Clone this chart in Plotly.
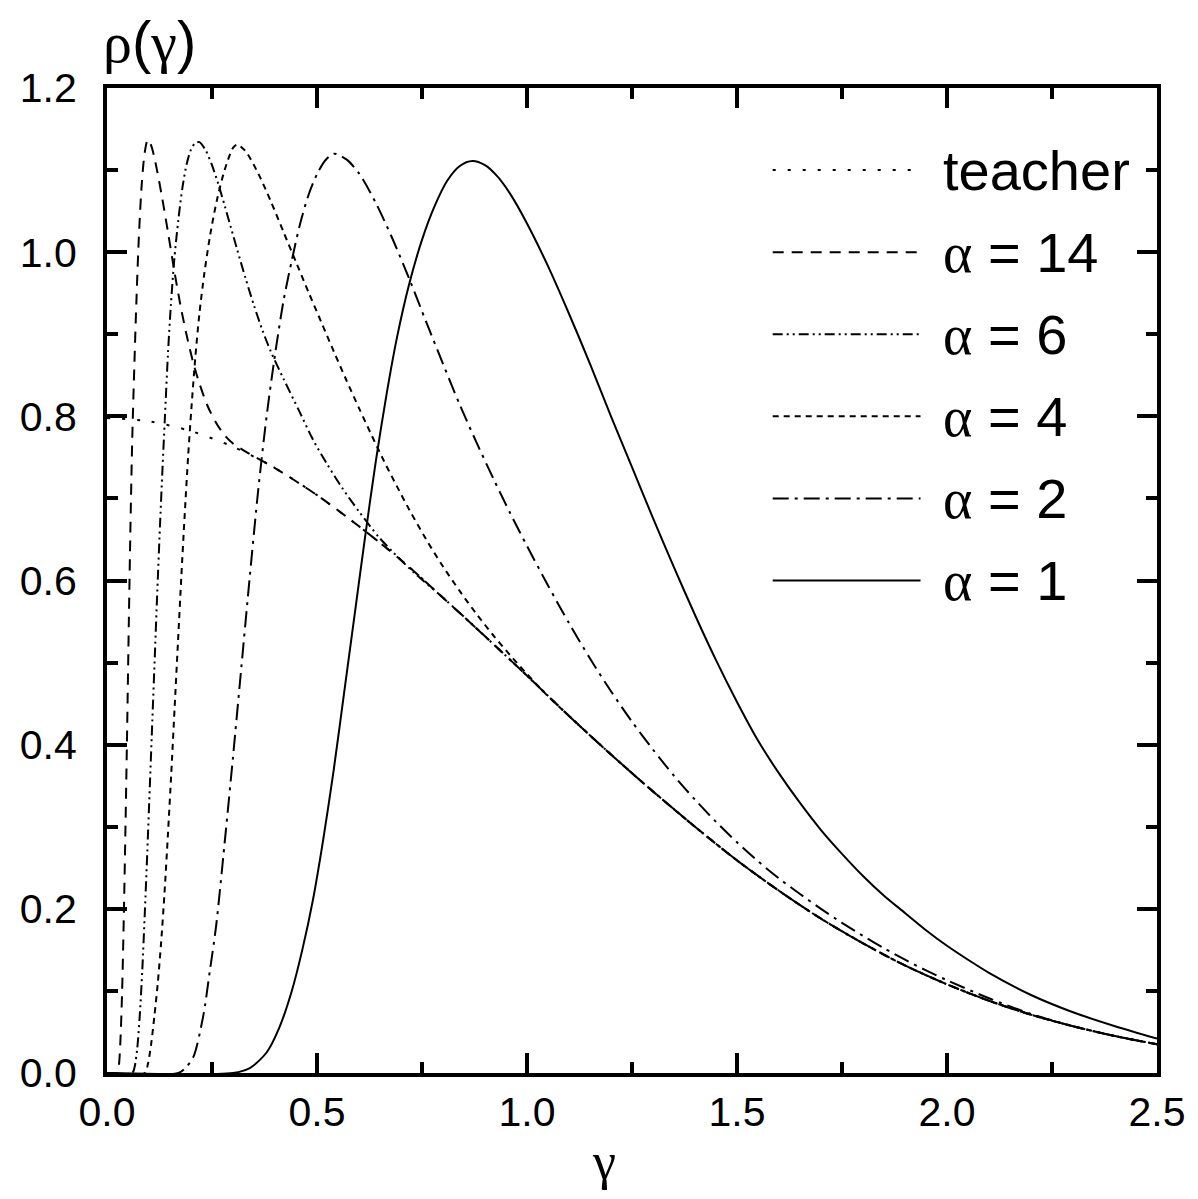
import plotly.graph_objects as go

# ---------------- data ----------------
teacher_g = [0.0, 0.1, 0.2, 0.3, 0.4, 0.5, 0.6, 0.7, 0.8, 0.9, 1.0, 1.1, 1.2, 1.3, 1.4,
             1.5, 1.6, 1.7, 1.8, 1.9, 2.0, 2.1, 2.2, 2.3, 2.4, 2.5]
teacher_r = [0.798, 0.794, 0.782, 0.763, 0.737, 0.704, 0.666, 0.625, 0.579, 0.532, 0.484,
             0.435, 0.388, 0.343, 0.300, 0.259, 0.222, 0.188, 0.158, 0.131, 0.108, 0.088,
             0.071, 0.057, 0.045, 0.035]

a14_g = [0.0, 0.024, 0.028, 0.032, 0.036, 0.040, 0.044, 0.048, 0.052, 0.056, 0.060, 0.065,
         0.070, 0.076, 0.083, 0.090, 0.097, 0.105, 0.115, 0.13, 0.145, 0.16, 0.175, 0.19,
         0.205, 0.22, 0.24, 0.26, 0.28, 0.30, 0.33, 0.4, 0.5, 0.6, 0.7, 0.8, 0.9, 1.0, 1.1,
         1.2, 1.3, 1.4, 1.5, 1.6, 1.7, 1.8, 1.9, 2.0, 2.1, 2.2, 2.3, 2.4, 2.5]
a14_r = [0.0, 0.0, 0.008, 0.04, 0.10, 0.19, 0.30, 0.42, 0.55, 0.67, 0.77, 0.86,
         0.94, 1.02, 1.085, 1.122, 1.137, 1.130, 1.110, 1.070, 1.025, 0.978, 0.935, 0.898,
         0.866, 0.840, 0.812, 0.792, 0.777, 0.767, 0.757, 0.737, 0.704, 0.666, 0.625, 0.579,
         0.532, 0.484, 0.435, 0.388, 0.343, 0.300, 0.259, 0.222, 0.188, 0.158, 0.131, 0.108,
         0.088, 0.071, 0.057, 0.045, 0.035]

a6_g = [0.0, 0.06, 0.066, 0.072, 0.078, 0.084, 0.09, 0.096, 0.102, 0.108, 0.114, 0.12,
        0.126, 0.132, 0.138, 0.145, 0.152, 0.16, 0.17, 0.18, 0.19, 0.20, 0.21, 0.22, 0.235,
        0.25, 0.265, 0.28, 0.295, 0.31, 0.33, 0.35, 0.37, 0.39, 0.42, 0.458, 0.49, 0.525,
        0.561, 0.60, 0.647, 0.68, 0.73, 0.8, 0.9, 1.0, 1.1, 1.2, 1.3, 1.4, 1.5, 1.6, 1.7,
        1.8, 1.9, 2.0, 2.1, 2.2, 2.3, 2.4, 2.5]
a6_r = [0.0, 0.0, 0.008, 0.03, 0.07, 0.125, 0.195, 0.27, 0.35, 0.43, 0.51, 0.59,
        0.665, 0.735, 0.80, 0.875, 0.935, 0.99, 1.04, 1.08, 1.108, 1.125, 1.133, 1.134, 1.124,
        1.106, 1.083, 1.057, 1.03, 1.003, 0.968, 0.935, 0.905, 0.879, 0.846, 0.806, 0.772,
        0.741, 0.712, 0.684, 0.653, 0.635, 0.610, 0.579, 0.532, 0.484, 0.435, 0.388, 0.343,
        0.300, 0.259, 0.222, 0.188, 0.158, 0.131, 0.108, 0.088, 0.071, 0.057, 0.045, 0.035]

a4_g = [0.0, 0.09, 0.097, 0.105, 0.113, 0.121, 0.129, 0.137, 0.145, 0.153, 0.161, 0.169,
        0.177, 0.185, 0.193, 0.201, 0.21, 0.22, 0.232, 0.246, 0.262, 0.28, 0.30, 0.31, 0.33,
        0.36, 0.39, 0.42, 0.45, 0.48, 0.51, 0.54, 0.57, 0.60, 0.63, 0.66, 0.69, 0.72, 0.76,
        0.80, 0.84, 0.88, 0.92, 0.96, 1.0, 1.05, 1.1, 1.2, 1.3, 1.4, 1.5, 1.6, 1.7, 1.8,
        1.9, 2.0, 2.1, 2.2, 2.3, 2.4, 2.5]
a4_r = [0.0, 0.0, 0.01, 0.035, 0.07, 0.11, 0.16, 0.22, 0.29, 0.365, 0.445, 0.525,
        0.605, 0.68, 0.75, 0.81, 0.87, 0.925, 0.975, 1.022, 1.064, 1.10, 1.127, 1.131, 1.123,
        1.096, 1.062, 1.025, 0.988, 0.951, 0.915, 0.879, 0.844, 0.81, 0.777, 0.745, 0.715,
        0.686, 0.65, 0.617, 0.587, 0.559, 0.533, 0.509, 0.486, 0.459, 0.435, 0.388, 0.343,
        0.300, 0.259, 0.222, 0.188, 0.158, 0.131, 0.108, 0.088, 0.071, 0.057, 0.045, 0.035]

a2_g = [0.0, 0.17, 0.19, 0.206, 0.229, 0.245, 0.26, 0.28, 0.30, 0.32, 0.34, 0.36, 0.38,
        0.40, 0.42, 0.44, 0.46, 0.48, 0.50, 0.52, 0.54, 0.57, 0.60, 0.64, 0.68, 0.72, 0.76,
        0.80, 0.84, 0.88, 0.92, 0.96, 1.0, 1.05, 1.1, 1.15, 1.2, 1.25, 1.3, 1.35, 1.4, 1.45,
        1.5, 1.55, 1.6, 1.65, 1.7, 1.75, 1.8, 1.85, 1.9, 1.95, 2.0, 2.1, 2.2, 2.3, 2.4, 2.5]
a2_r = [0.0, 0.0, 0.008, 0.02, 0.069, 0.125, 0.18, 0.28, 0.385, 0.495, 0.605, 0.71, 0.80,
        0.875, 0.94, 0.99, 1.035, 1.07, 1.095, 1.112, 1.12, 1.113, 1.096, 1.06, 1.016, 0.967,
        0.915, 0.864, 0.814, 0.768, 0.724, 0.682, 0.642, 0.594, 0.548, 0.505, 0.465, 0.428,
        0.394, 0.362, 0.333, 0.306, 0.281, 0.258, 0.237, 0.218, 0.200, 0.183, 0.167, 0.152,
        0.138, 0.125, 0.113, 0.091, 0.072, 0.057, 0.045, 0.035]

a1_g = [0.0, 0.30, 0.34, 0.38, 0.41, 0.44, 0.465, 0.49, 0.515, 0.54, 0.565, 0.59, 0.615,
        0.64, 0.665, 0.69, 0.72, 0.75, 0.78, 0.81, 0.84, 0.87, 0.90, 0.93, 0.96, 1.0, 1.05,
        1.1, 1.15, 1.2, 1.25, 1.3, 1.35, 1.4, 1.45, 1.5, 1.55, 1.6, 1.65, 1.7, 1.75, 1.8,
        1.85, 1.9, 1.95, 2.0, 2.05, 2.1, 2.2, 2.3, 2.4, 2.5]
a1_r = [0.0, 0.0, 0.006, 0.025, 0.055, 0.10, 0.15, 0.21, 0.285, 0.37, 0.465, 0.56, 0.655,
        0.745, 0.825, 0.895, 0.962, 1.015, 1.056, 1.087, 1.105, 1.111, 1.106, 1.092, 1.071,
        1.035, 0.983, 0.925, 0.864, 0.80, 0.738, 0.676, 0.616, 0.558, 0.503, 0.452, 0.405,
        0.365, 0.329, 0.296, 0.267, 0.240, 0.216, 0.195, 0.174, 0.155, 0.138, 0.122, 0.095,
        0.074, 0.057, 0.042]

series_names = ["teacher", "α = 14", "α = 6", "α = 4", "α = 2", "α = 1"]
legend_rows = [1.1, 1.0, 0.9, 0.8, 0.7, 0.6]

x_ticks = [0.0, 0.5, 1.0, 1.5, 2.0, 2.5]
y_ticks = [0.0, 0.2, 0.4, 0.6, 0.8, 1.0, 1.2]

# ---------------- styles ----------------
dashes = ["3px,12px", "11px,8px", "10px,4px,2px,4px,2px,4px", "6px,5px",
          "16px,6px,3px,6px", "solid"]
TXT = "Liberation Sans, Arial, sans-serif"
GRK = "Liberation Serif, Times New Roman, serif"

data = [(teacher_g, teacher_r), (a14_g, a14_r), (a6_g, a6_r), (a4_g, a4_r),
        (a2_g, a2_r), (a1_g, a1_r)]

fig = go.Figure()
for (g, r), name, dash in zip(data, series_names, dashes):
    fig.add_trace(go.Scatter(x=g, y=r, mode="lines", name=name, showlegend=False,
                             line=dict(color="black", width=2, dash=dash,
                                       shape="spline", smoothing=0.8)))

# custom legend with long line samples
def fmt(name):
    return name.replace("α", f"<span style='font-family:{GRK}'>α</span>")

for name, dash, yr in zip(series_names, dashes, legend_rows):
    fig.add_shape(type="line", xref="x", yref="y", x0=1.585, x1=1.937, y0=yr, y1=yr,
                  line=dict(color="black", width=2, dash=dash))
    fig.add_annotation(x=1.985, y=yr, xref="x", yref="y", text=fmt(name), showarrow=False,
                       xanchor="left", yanchor="middle",
                       font=dict(family=TXT, size=56, color="black"))

axis_common = dict(showgrid=False, zeroline=False, showline=True, linecolor="black",
                   linewidth=4, mirror="ticks", ticks="inside", tickcolor="black",
                   tickwidth=4, ticklen=20, tickformat=".1f",
                   tickfont=dict(family=TXT, size=41, color="black"))

fig.update_xaxes(range=[0, 2.5], tickvals=x_ticks, **axis_common,
                 minor=dict(dtick=0.25, ticks="inside", ticklen=11, tickwidth=4,
                            tickcolor="black", showgrid=False))
fig.update_yaxes(range=[0, 1.2], tickvals=y_ticks, ticklabelstandoff=18, **axis_common,
                 minor=dict(dtick=0.1, ticks="inside", ticklen=11, tickwidth=4,
                            tickcolor="black", showgrid=False))

# axis titles
fig.add_annotation(xref="paper", yref="paper", x=0.0, y=1.0, yshift=11, xshift=-6,
                   text=f"<span style='font-family:{GRK}'>ρ</span>(<span style='font-family:{GRK}'>γ</span>)",
                   showarrow=False, xanchor="left", yanchor="bottom",
                   font=dict(family=TXT, size=58, color="black"))
fig.add_annotation(xref="paper", yref="paper", x=0.473, y=0.0, yshift=-58,
                   text="γ", showarrow=False, xanchor="center", yanchor="top",
                   font=dict(family=GRK, size=52, color="black"))

# the page body adds an 8px margin, so the figure is sized to compensate
fig.update_layout(width=1190, height=1191, plot_bgcolor="white", paper_bgcolor="white",
                  margin=dict(l=95, r=38, t=80, b=126), showlegend=False)

fig.write_html("out.html")
